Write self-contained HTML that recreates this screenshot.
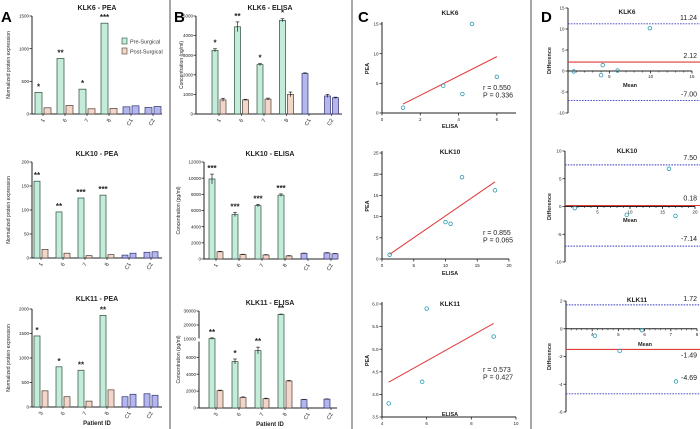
<!DOCTYPE html>
<html><head><meta charset="utf-8"><style>
html,body{margin:0;padding:0;background:#fff;}
svg{display:block;font-family:"Liberation Sans",Arial,sans-serif;}
</style></head><body>
<svg id="fig" width="700" height="429" viewBox="0 0 700 429" xmlns="http://www.w3.org/2000/svg">
<rect width="700" height="429" fill="#fff"/>
<line x1="170" y1="0" x2="170" y2="429" stroke="#8a8a8a" stroke-width="1.5"/>
<line x1="352" y1="0" x2="352" y2="429" stroke="#8a8a8a" stroke-width="1.5"/>
<line x1="531" y1="0" x2="531" y2="429" stroke="#8a8a8a" stroke-width="1.5"/>
<text x="1" y="22" font-size="15" font-weight="bold">A</text>
<text x="174" y="22" font-size="15" font-weight="bold">B</text>
<text x="358" y="22" font-size="15" font-weight="bold">C</text>
<text x="541" y="22" font-size="15" font-weight="bold">D</text>
<g>
<rect x="122" y="38" width="5" height="6" fill="#c3ecd9" stroke="#2b4b3c" stroke-width="0.6"/>
<text x="130" y="43.5" font-size="5.5" fill="#333">Pre-Surgical</text>
<rect x="122" y="48" width="5" height="6" fill="#f3d6ca" stroke="#4b3b34" stroke-width="0.6"/>
<text x="130" y="53.5" font-size="5.5" fill="#333">Post-Surgical</text>
</g>
</svg>
<script>
// ---- data ----
const groupLabelsTop = ["1","6","7","8","C1","C2"];
const groupLabelsBot = ["3","6","7","8","C1","C2"];
const aTopPre = [330, 850, 380, 1390, 110, 100];
const aTopPost = [95, 130, 80, 85, 125, 115];
const aTopStars = ["*","**","*","***","",""];
const aTopTicks = [0, 500, 1000, 1500];
const aMidPre = [160, 96, 125, 131, 6, 12];
const aMidPost = [18, 10, 5, 7, 10, 13];
const aMidStars = ["**","**","***","***","",""];
const aMidTicks = [0, 50, 100, 150, 200];
const aBotPre = [1450, 820, 750, 1870, 210, 270];
const aBotPost = [330, 210, 120, 350, 260, 240];
const aBotStars = ["*","*","**","**","",""];
const aBotTicks = [0, 500, 1000, 1500, 2000];
const bTopPre = [3250, 4450, 2520, 4780, 2070, 920];
const bTopPreErr = [80, 250, 50, 80, 30, 80];
const bTopPost = [720, 720, 760, 1000, null, 830];
const bTopPostErr = [80, 30, 50, 120, 0, 30];
const bTopStars = ["*","**","*","*","",""];
const bTopTicks = [0, 1000, 2000, 3000, 4000, 5000];
const bMidPre = [9900, 5500, 6600, 7900, 700, 750];
const bMidPreErr = [600, 250, 150, 150, 30, 40];
const bMidPost = [900, 550, 500, 380, null, 650];
const bMidPostErr = [50, 40, 40, 40, 0, 30];
const bMidStars = ["***","***","***","***","",""];
const bMidTicks = [0, 2000, 4000, 6000, 8000, 10000, 12000];
const bBotPre = [10300, 5500, 6800, 27500, 1000, 1050];
const bBotPreErr = [500, 300, 400, 300, 30, 30];
const bBotPost = [2050, 1250, 1100, 3200, null, null];
const bBotPostErr = [60, 60, 60, 60, 0, 0];
const bBotStars = ["**","*","**","**","",""];
const bBotTicksLow = [0, 2000, 4000, 6000];
const bBotTicksHigh = [10000, 20000, 30000];
const c6X = [1.1, 3.2, 4.2, 4.7, 6.0];
const c6Y = [0.9, 4.6, 3.2, 15.0, 6.1];
const c6Fit = [1.1, 1.5, 6.0, 9.5];
const c10X = [1.2, 10.0, 10.8, 12.6, 17.8];
const c10Y = [1.0, 8.7, 8.3, 19.3, 16.2];
const c10Fit = [1.2, 1.1, 17.8, 18.2];
const c11X = [4.3, 5.8, 6.0, 9.0];
const c11Y = [3.8, 4.28, 5.9, 5.28];
const c11Fit = [4.3, 4.27, 9.0, 5.57];
const d6Mean = [0.7, 4.0, 4.2, 6.0, 9.9];
const d6Diff = [-0.1, -1.0, 1.4, 0.1, 10.2];
const d6Lines = [11.24, 2.12, -7.00];
const d10Mean = [1.5, 9.5, 16.0, 17.0];
const d10Diff = [-0.3, -1.5, 6.8, -1.7];
const d10Lines = [7.50, 0.18, -7.14];
const d11Mean = [4.1, 5.05, 5.9, 7.2];
const d11Diff = [-0.5, -1.6, -0.1, -3.8];
const d11Lines = [1.72, -1.49, -4.69];

const svg = document.getElementById('fig');
const NS = 'http://www.w3.org/2000/svg';
function mk(tag, attrs, parent){
  const e = document.createElementNS(NS, tag);
  for (const k in attrs) e.setAttribute(k, attrs[k]);
  (parent||svg).appendChild(e);
  return e;
}
function txt(x,y,s,size,parent,extra){
  const t = mk('text', Object.assign({x:x,y:y,'font-size':size,fill:'#222'}, extra||{}), parent);
  t.textContent = s;
  return t;
}
const GREEN='#c3ecd9', GREEN_S='#2b4b3c', PINK='#f3d6ca', PINK_S='#4b3b34', BLUE='#b4b6ee', BLUE_S='#2f3070';

function barPanel(name, o){
  const g = mk('g', {});
  
  
  const y = o.yScale;
  mk('line',{x1:o.x0,y1:o.yTop,x2:o.x0,y2:o.base,stroke:'#222','stroke-width':1},g);
  mk('line',{x1:o.x0,y1:o.base,x2:o.xEnd,y2:o.base,stroke:'#222','stroke-width':1},g);
  o.ticks.forEach(v=>{
    const yy=y(v);
    mk('line',{x1:o.x0-2.5,y1:yy,x2:o.x0,y2:yy,stroke:'#222','stroke-width':0.8},g);
    txt(o.x0-3,yy+1.6,String(v),4.5,g,{'text-anchor':'end'});
  });
  if (o.breakY){
    mk('rect',{x:o.x0-3,y:o.breakY-1.5,width:6,height:3,fill:'#fff'},g);
  }
  txt(o.title[0],o.title[1],o.title[2],7,g,{'text-anchor':'middle','font-weight':'bold'});
  txt(0,0,o.ylab,5,g,{'text-anchor':'middle',transform:'translate('+o.ylabX+','+((o.yTop+o.base)/2)+') rotate(-90)'});
  for (let i=0;i<o.pre.length;i++){
    const left = o.firstLeft + i*o.spacing;
    const ctrl = i>=4;
    const vals=[o.pre[i], o.post[i]];
    const errs=[o.preErr?o.preErr[i]:0, o.postErr?o.postErr[i]:0];
    let topMost = o.base;
    vals.forEach((v,j)=>{
      if (v===null || v===undefined) return;
      const bx = left + j*(o.bw+2);
      const yv = y(v);
      const r = mk('rect',{x:bx,y:yv,width:o.bw,height:o.base-yv,fill:ctrl?BLUE:(j?PINK:GREEN),stroke:ctrl?BLUE_S:(j?PINK_S:GREEN_S),'stroke-width':0.7},g);
      
      
      let tp = yv;
      if (errs[j]){
        const y1=y(v+errs[j]), y2=y(v-errs[j]), cx=bx+o.bw/2;
        mk('line',{x1:cx,y1:y1,x2:cx,y2:y2,stroke:'#222','stroke-width':0.7},g);
        mk('line',{x1:cx-1.8,y1:y1,x2:cx+1.8,y2:y1,stroke:'#222','stroke-width':0.7},g);
        tp = y1;
      }
      if (j===0) topMost = tp;
    });
    if (o.stars[i]) txt(left+o.bw/2, topMost-3, o.stars[i], 8, g, {'text-anchor':'middle','font-weight':'bold'});
    const cx = left + o.bw + 1;
    mk('line',{x1:cx,y1:o.base,x2:cx,y2:o.base+2,stroke:'#222','stroke-width':0.7},g);
    txt(cx+2,o.base+6,o.labels[i],5.5,g,{'text-anchor':'end',transform:'rotate(-60 '+(cx+2)+' '+(o.base+6)+')'});
  }
  if (o.xlab) txt(o.xlab[0],o.xlab[1],'Patient ID',6,g,{'text-anchor':'middle','font-weight':'bold'});
}
function lin(d0,d1,r0,r1){return v=>r0+(v-d0)*(r1-r0)/(d1-d0);}

barPanel('klk6-pea-chart',{x0:32,xEnd:162,yTop:16,base:114,yScale:lin(0,1500,114,16),ticks:aTopTicks,firstLeft:35,spacing:22,bw:7,
  pre:aTopPre,post:aTopPost,stars:aTopStars,labels:groupLabelsTop,title:[97,10,'KLK6 - PEA'],ylab:'Normalized protein expression',ylabX:10});
barPanel('klk10-pea-chart',{x0:32,xEnd:162,yTop:162,base:258,yScale:lin(0,200,258,162),ticks:aMidTicks,firstLeft:34,spacing:22,bw:6,
  pre:aMidPre,post:aMidPost,stars:aMidStars,labels:groupLabelsTop,title:[97,156,'KLK10 - PEA'],ylab:'Normalized protein expression',ylabX:10});
barPanel('klk11-pea-chart',{x0:32,xEnd:162,yTop:309,base:407,yScale:lin(0,2000,407,309),ticks:aBotTicks,firstLeft:34,spacing:22,bw:6,
  pre:aBotPre,post:aBotPost,stars:aBotStars,labels:groupLabelsBot,title:[97,301,'KLK11 - PEA'],ylab:'Normalized protein expression',ylabX:10,xlab:[97,425]});
barPanel('klk6-elisa-chart',{x0:196,xEnd:342,yTop:16,base:114,yScale:lin(0,5000,114,16),ticks:bTopTicks,firstLeft:212,spacing:22.5,bw:6,
  pre:bTopPre,preErr:bTopPreErr,post:bTopPost,postErr:bTopPostErr,stars:bTopStars,labels:groupLabelsTop,title:[270,10,'KLK6 - ELISA'],ylab:'Concentration (pg/ml)',ylabX:183});
barPanel('klk10-elisa-chart',{x0:204,xEnd:337,yTop:162,base:259,yScale:lin(0,12000,259,162),ticks:bMidTicks,firstLeft:209,spacing:23,bw:6,
  pre:bMidPre,preErr:bMidPreErr,post:bMidPost,postErr:bMidPostErr,stars:bMidStars,labels:groupLabelsTop,title:[270,156,'KLK10 - ELISA'],ylab:'Concentration (pg/ml)',ylabX:180});
const bBotScale = v => v<=8000 ? 408 - v/2000*16.9 : 339 - (v-10000)*0.0014;
barPanel('klk11-elisa-chart',{x0:199,xEnd:337,yTop:311,base:408,yScale:bBotScale,ticks:bBotTicksLow.concat(bBotTicksHigh),breakY:340,firstLeft:209,spacing:23,bw:6,
  pre:bBotPre,preErr:bBotPreErr,post:bBotPost,postErr:bBotPostErr,stars:bBotStars,labels:groupLabelsBot,title:[270,305,'KLK11 - ELISA'],ylab:'Concentration (pg/ml)',ylabX:180,xlab:[270,426]});

function circle(x,y,g,name){
  const c = mk('circle',{cx:x,cy:y,r:1.8,fill:'none',stroke:'#2a9bb0','stroke-width':0.8},g);
  
  
}
function scatterPanel(name,o){
  const g = mk('g',{});
  
  
  const sx=lin(o.xd[0],o.xd[1],o.xr[0],o.xr[1]), sy=lin(o.yd[0],o.yd[1],o.yr[0],o.yr[1]);
  mk('line',{x1:o.xr[0],y1:o.yr[0],x2:o.xr[0],y2:o.yr[1]-2,stroke:'#222','stroke-width':1},g);
  mk('line',{x1:o.xr[0],y1:o.yr[0],x2:o.xr[1],y2:o.yr[0],stroke:'#222','stroke-width':1},g);
  o.yt.forEach(v=>{const yy=sy(v);mk('line',{x1:o.xr[0]-2.5,y1:yy,x2:o.xr[0],y2:yy,stroke:'#222','stroke-width':0.8},g);
    txt(o.xr[0]-3.5,yy+1.6,o.yfmt(v),4.5,g,{'text-anchor':'end'});});
  o.xt.forEach(v=>{const xx=sx(v);mk('line',{x1:xx,y1:o.yr[0],x2:xx,y2:o.yr[0]+2.5,stroke:'#222','stroke-width':0.8},g);
    txt(xx,o.yr[0]+8,String(v),4.5,g,{'text-anchor':'middle'});});
  const f=o.fit;
  mk('line',{x1:sx(f[0]),y1:sy(f[1]),x2:sx(f[2]),y2:sy(f[3]),stroke:'#e03a3a','stroke-width':1},g);
  o.x.forEach((v,i)=>circle(sx(v),sy(o.y[i]),g,'point-'+i));
  txt(450,o.titleY,o.title,6.5,g,{'text-anchor':'middle','font-weight':'bold'});
  txt(450,o.xlabY,'ELISA',5.5,g,{'text-anchor':'middle','font-weight':'bold'});
  txt(0,0,'PEA',5.5,g,{'text-anchor':'middle','font-weight':'bold',transform:'translate(369,'+((o.yr[0]+o.yr[1])/2)+') rotate(-90)'});
  txt(483,o.rY,o.r,7,g,{});
  txt(483,o.rY+7.5,o.p,7,g,{});
}
scatterPanel('klk6-correlation-chart',{x:c6X,y:c6Y,fit:c6Fit,xd:[0,7],xr:[382,516],yd:[0,15],yr:[113,24],xt:[0,2,4,6],yt:[0,5,10,15],yfmt:String,
  title:'KLK6',titleY:15,xlabY:128,r:'r = 0.550',p:'P = 0.336',rY:90});
scatterPanel('klk10-correlation-chart',{x:c10X,y:c10Y,fit:c10Fit,xd:[0,20],xr:[382,509],yd:[0,25],yr:[259,153],xt:[0,5,10,15,20],yt:[0,5,10,15,20,25],yfmt:String,
  title:'KLK10',titleY:154,xlabY:275,r:'r = 0.855',p:'P = 0.065',rY:235});
scatterPanel('klk11-correlation-chart',{x:c11X,y:c11Y,fit:c11Fit,xd:[4,10],xr:[382,516],yd:[3.5,6.0],yr:[417,304],xt:[4,6,8,10],yt:[3.5,4.0,4.5,5.0,5.5,6.0],yfmt:v=>v.toFixed(1),
  title:'KLK11',titleY:306,xlabY:416,r:'r = 0.573',p:'P = 0.427',rY:372});

function baPanel(name,o){
  const g = mk('g',{});
  
  
  const sx=lin(o.xd[0],o.xd[1],o.xr[0],o.xr[1]), sy=lin(o.yd[0],o.yd[1],o.yr[0],o.yr[1]);
  const y0=sy(0);
  mk('line',{x1:o.xr[0],y1:o.yr[0],x2:o.xr[0],y2:o.yr[1],stroke:'#222','stroke-width':1},g);
  mk('line',{x1:o.xr[0],y1:y0,x2:o.xr[1],y2:y0,stroke:'#222','stroke-width':1},g);
  o.yt.forEach(v=>{const yy=sy(v);mk('line',{x1:o.xr[0]-2.5,y1:yy,x2:o.xr[0],y2:yy,stroke:'#222','stroke-width':0.8},g);
    txt(o.xr[0]-3.5,yy+1.6,String(v),4.5,g,{'text-anchor':'end'});});
  for (let v=o.xd[0]+o.minor; v<=o.xd[1]+1e-9; v+=o.minor){
    const xx=sx(v); mk('line',{x1:xx,y1:y0,x2:xx,y2:y0+1.5,stroke:'#222','stroke-width':0.6},g);
  }
  o.xt.forEach(v=>{const xx=sx(v);mk('line',{x1:xx,y1:y0,x2:xx,y2:y0+2.5,stroke:'#222','stroke-width':0.8},g);
    txt(xx,y0+7,String(v),4.5,g,{'text-anchor':'middle'});});
  const L=o.lines;
  [0,2].forEach(k=>mk('line',{x1:o.xr[0],y1:sy(L[k]),x2:700,y2:sy(L[k]),stroke:'#3a3ac0','stroke-width':0.9,'stroke-dasharray':'1.6,1.2'},g));
  mk('line',{x1:o.xr[0],y1:sy(L[1]),x2:700,y2:sy(L[1]),stroke:'#e03a3a','stroke-width':1.1},g);
  L.forEach((v,k)=>txt(697,sy(v)+o.lblOff[k],v.toFixed(2),7,g,{'text-anchor':'end'}));
  o.x.forEach((v,i)=>circle(sx(v),sy(o.y[i]),g,'point-'+i));
  txt(o.titleX,o.titleY,o.title,6.5,g,{'text-anchor':'middle','font-weight':'bold'});
  txt(o.meanX,o.meanY,'Mean',5.5,g,{'text-anchor':'middle','font-weight':'bold'});
  txt(0,0,'Difference',5.5,g,{'text-anchor':'middle','font-weight':'bold',transform:'translate(551,'+((o.yr[0]+o.yr[1])/2)+') rotate(-90)'});
}
baPanel('klk6-bland-altman-chart',{x:d6Mean,y:d6Diff,lines:d6Lines,xd:[0,15],xr:[568,692],yd:[-10,15],yr:[113,8],xt:[5,10,15],minor:1,yt:[-10,-5,0,5,10,15],
  lblOff:[-4,-4,-4],title:'KLK6',titleX:627,titleY:14,meanX:630,meanY:87});
baPanel('klk10-bland-altman-chart',{x:d10Mean,y:d10Diff,lines:d10Lines,xd:[0,20],xr:[565,695],yd:[-10,10],yr:[262,151],xt:[5,10,15,20],minor:1,yt:[-10,-5,0,5,10],
  lblOff:[-5,-5,-5],title:'KLK10',titleX:627,titleY:153,meanX:630,meanY:222});
baPanel('klk11-bland-altman-chart',{x:d11Mean,y:d11Diff,lines:d11Lines,xd:[3,8],xr:[566,697],yd:[-6,2],yr:[412,301],xt:[4,5,6,7,8],minor:0.2,yt:[-6,-4,-2,0,2],
  lblOff:[-4,8,-14],title:'KLK11',titleX:637,titleY:302,meanX:645,meanY:346});
</script>
</body></html>
